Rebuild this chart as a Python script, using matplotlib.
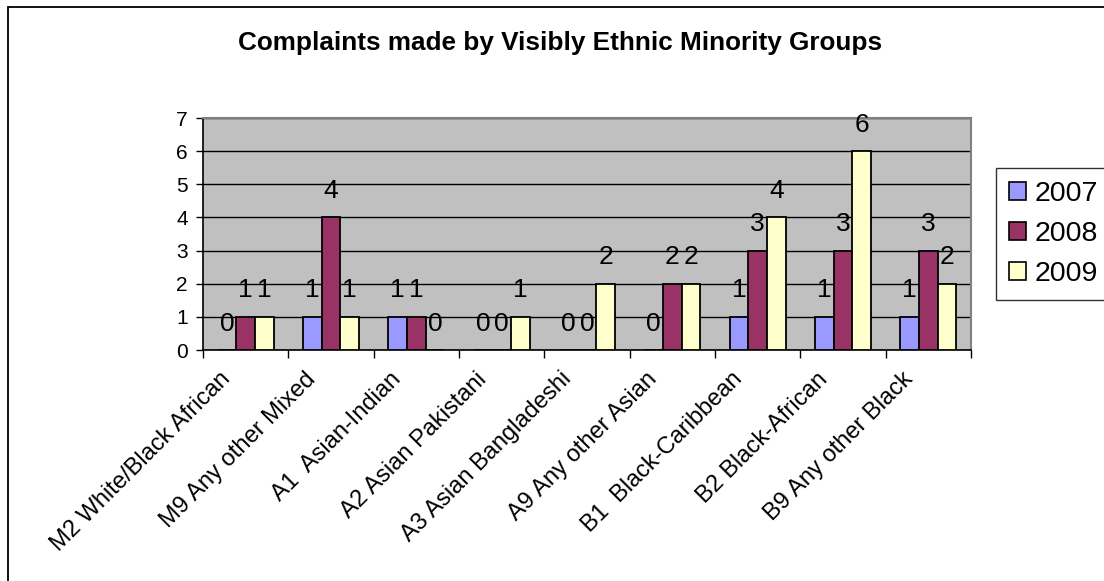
import numpy as np
import matplotlib.pyplot as plt
from matplotlib.patches import Patch, Rectangle

plt.rcParams['font.family'] = ['Liberation Sans', 'DejaVu Sans']

groups = ['M2 White/Black African', 'M9 Any other Mixed', 'A1  Asian-Indian',
          'A2 Asian Pakistani', 'A3 Asian Bangladeshi', 'A9 Any other Asian',
          'B1  Black-Caribbean', 'B2 Black-African', 'B9 Any other Black']
years = ['2007', '2008', '2009']
c2007 = [0, 1, 1, 0, 0, 0, 1, 1, 1]
c2008 = [1, 4, 1, 0, 0, 2, 3, 3, 3]
c2009 = [1, 1, 0, 1, 2, 2, 4, 6, 2]
colours = ['#9999FF', '#993366', '#FFFFCC']

fig = plt.figure(figsize=(11.04, 5.81), dpi=100)
ax = fig.add_axes([203/1104, 1-350/581, (971-203)/1104, (350-118)/581])
ax.set_facecolor('#C0C0C0')

x = np.arange(len(groups))
w = 0.22
for i, (vals, col) in enumerate(zip([c2007, c2008, c2009], colours)):
    pos = x + (i - 1) * w
    ax.bar(pos, vals, w, color=col, edgecolor='black', linewidth=1.3, zorder=3)
    for px, v in zip(pos, vals):
        ax.annotate(str(v), (px, v), xytext=(0, 14), textcoords='offset points',
                    ha='center', va='baseline', fontsize=19, zorder=4)

ax.set_xlim(-0.5, len(groups) - 0.5)
ax.set_ylim(0, 7)
ax.set_yticks(range(8))
ax.tick_params(axis='y', labelsize=15, length=5, width=1, pad=6)
ax.yaxis.grid(True, color='black', linewidth=1, zorder=1)

# ticks sit between the categories, labels at the centres
ax.set_xticks(np.arange(len(groups) + 1) - 0.5)
ax.set_xticklabels([])
ax.tick_params(axis='x', length=6, width=1)
for xi, name in zip(x, groups):
    ax.annotate(name, (xi, 0), xytext=(-19, -13), textcoords='offset points',
                rotation=45, ha='right', va='top', rotation_mode='anchor',
                fontsize=17, annotation_clip=False)

for s in ['left', 'bottom']:
    ax.spines[s].set_color('black')
    ax.spines[s].set_linewidth(1.2)
for s in ['top', 'right']:
    ax.spines[s].set_color('#808080')
    ax.spines[s].set_linewidth(1.5)

handles = [Patch(facecolor=c, edgecolor='black', linewidth=1.2, label=y)
           for c, y in zip(colours, years)]
leg = fig.legend(handles=handles, loc='upper left',
                 bbox_to_anchor=(996/1104, 1-168/581), bbox_transform=fig.transFigure,
                 fontsize=20.5, frameon=True, fancybox=False, borderaxespad=0,
                 handlelength=0.6, handleheight=0.6, handletextpad=0.3,
                 labelspacing=0.5, borderpad=0.45)
leg.get_frame().set_edgecolor('black')
leg.get_frame().set_linewidth(1)

fig.text(560/1104, 1-43/581, 'Complaints made by Visibly Ethnic Minority Groups',
         ha='center', va='center', fontsize=18.8, fontweight='bold')

# chart frame
fig.patches.append(Rectangle((8/1104, -0.05), 1.1, 1-7/581+0.05,
                             transform=fig.transFigure, fill=False,
                             edgecolor='black', linewidth=1.3))

fig.savefig('out.png', dpi=100)
